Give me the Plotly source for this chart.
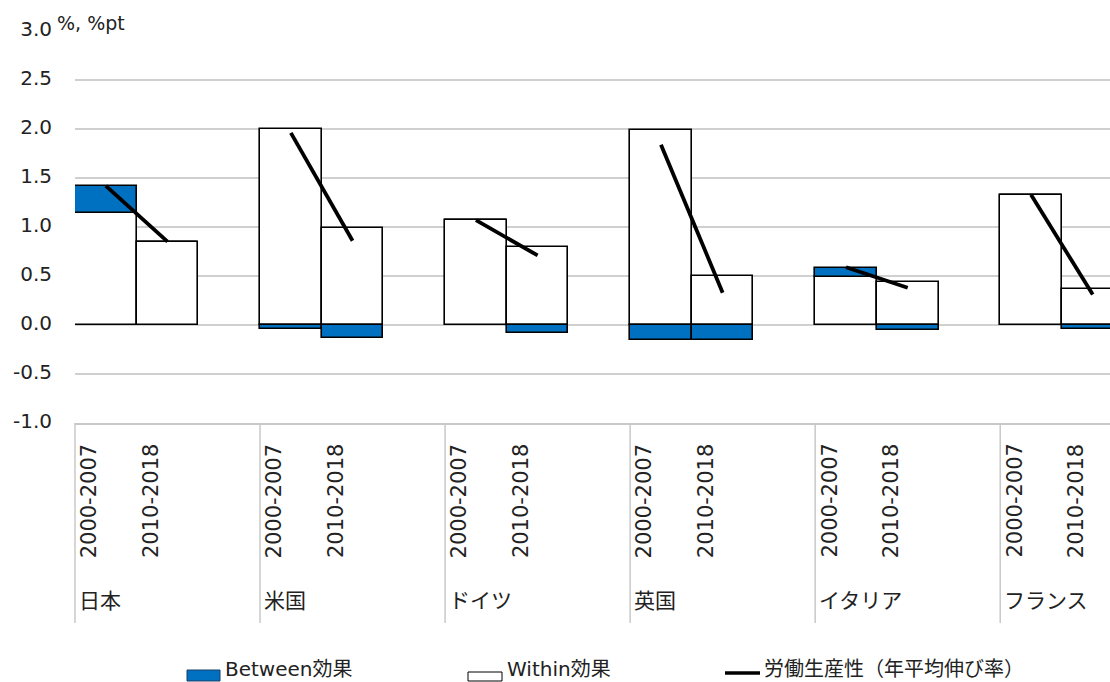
import plotly.graph_objects as go

# Labour productivity growth decomposition (% / %pt, annual average)
countries = ["日本", "米国", "ドイツ", "英国", "イタリア", "フランス"]
periods = ["2000-2007", "2010-2018"]

within_2000_2007 = [1.14, 2.00, 1.07, 1.99, 0.49, 1.33]
within_2010_2018 = [0.85, 0.99, 0.80, 0.50, 0.44, 0.37]
between_2000_2007 = [0.28, -0.04, 0.0, -0.155, 0.09, 0.0]
between_2010_2018 = [0.0, -0.13, -0.08, -0.155, -0.05, -0.045]
productivity_2000_2007 = [1.42, 1.96, 1.07, 1.84, 0.59, 1.33]
productivity_2010_2018 = [0.85, 0.86, 0.71, 0.33, 0.38, 0.31]

y_ticks = [-1.0, -0.5, 0.0, 0.5, 1.0, 1.5, 2.0, 2.5, 3.0]
y_tick_text = [f"{v:.1f}" for v in y_ticks]  # plain hyphen for negatives

# layout geometry
W, H = 1110, 682
L, R, T, B = 75, 0, 31, 259
SLOTS_PER_GROUP = 3
X_RANGE = [-0.5, 16.28]
Y_RANGE = [-1.0, 3.0]

FONT = "DejaVu Sans, Noto Sans CJK JP, sans-serif"
TEXT = "#222222"
GRID = "#d0d0d0"
BLUE = "#0070C0"

plot_w = W - L - R
plot_h = H - T - B


def px_x(px):
    return (px - L) / plot_w


def px_y(py):
    return (H - B - py) / plot_h


def slot_to_paper(s):
    return (s - X_RANGE[0]) / (X_RANGE[1] - X_RANGE[0])


slot_x, within, between = [], [], []
for i in range(len(countries)):
    for j, (w, b) in enumerate([(within_2000_2007[i], between_2000_2007[i]),
                                (within_2010_2018[i], between_2010_2018[i])]):
        slot_x.append(SLOTS_PER_GROUP * i + j)
        within.append(w)
        between.append(b)

line_x, line_y = [], []
for i in range(len(countries)):
    line_x += [SLOTS_PER_GROUP * i, SLOTS_PER_GROUP * i + 1, None]
    line_y += [productivity_2000_2007[i], productivity_2010_2018[i], None]

fig = go.Figure()
fig.add_trace(go.Bar(
    x=slot_x, y=within, width=1, name="Within効果",
    marker=dict(color="white", line=dict(color="black", width=1.6)),
))
fig.add_trace(go.Bar(
    x=slot_x, y=between, width=1, name="Between効果",
    marker=dict(color=BLUE, line=dict(color="black", width=1.6)),
))
fig.add_trace(go.Scatter(
    x=line_x, y=line_y, mode="lines", name="労働生産性（年平均伸び率）",
    line=dict(color="black", width=3.8), connectgaps=False,
))

shapes = []
annotations = []

# group dividers below the plot
for i in range(len(countries)):
    xs = slot_to_paper(SLOTS_PER_GROUP * i - 0.5)
    shapes.append(dict(type="line", xref="paper", yref="paper",
                       x0=xs, x1=xs, y0=px_y(423), y1=px_y(623),
                       line=dict(color="#c8c8c8", width=1.5)))
    # country label
    annotations.append(dict(text=countries[i], xref="paper", yref="paper",
                            x=xs, y=px_y(601), xanchor="left", yanchor="middle",
                            xshift=2, showarrow=False,
                            font=dict(family=FONT, size=21, color=TEXT)))
    # period labels (rotated)
    for j, p in enumerate(periods):
        annotations.append(dict(text=p, xref="paper", yref="paper",
                                x=slot_to_paper(SLOTS_PER_GROUP * i + j),
                                y=px_y(501), xanchor="center", yanchor="middle",
                                xshift=-16.5, textangle=-90, showarrow=False,
                                font=dict(family=FONT, size=21, color=TEXT)))

# unit label
annotations.append(dict(text="%, %pt", xref="paper", yref="paper",
                        x=px_x(55), y=px_y(23), xanchor="left", yanchor="middle",
                        showarrow=False, font=dict(family=FONT, size=19, color=TEXT)))

# legend
shapes.append(dict(type="rect", xref="paper", yref="paper",
                   x0=px_x(187), x1=px_x(220), y0=px_y(670), y1=px_y(681),
                   fillcolor=BLUE, line=dict(color="#1f3f66", width=1)))
annotations.append(dict(text="Between効果", xref="paper", yref="paper",
                        x=px_x(223), y=px_y(669), xanchor="left", yanchor="middle",
                        showarrow=False, font=dict(family=FONT, size=20, color=TEXT)))
shapes.append(dict(type="rect", xref="paper", yref="paper",
                   x0=px_x(468), x1=px_x(502), y0=px_y(672), y1=px_y(681),
                   fillcolor="white", line=dict(color="black", width=1)))
annotations.append(dict(text="Within効果", xref="paper", yref="paper",
                        x=px_x(505), y=px_y(669), xanchor="left", yanchor="middle",
                        showarrow=False, font=dict(family=FONT, size=20, color=TEXT)))
shapes.append(dict(type="line", xref="paper", yref="paper",
                   x0=px_x(725), x1=px_x(760), y0=px_y(673), y1=px_y(673),
                   line=dict(color="black", width=3.5)))
annotations.append(dict(text="労働生産性（年平均伸び率）", xref="paper", yref="paper",
                        x=px_x(762), y=px_y(669), xanchor="left", yanchor="middle",
                        showarrow=False, font=dict(family=FONT, size=20, color=TEXT)))

fig.update_layout(
    width=W, height=H,
    margin=dict(l=L, r=R, t=T, b=B, pad=0),
    paper_bgcolor="white", plot_bgcolor="white",
    barmode="relative", bargap=0, showlegend=False,
    font=dict(family=FONT, color=TEXT),
    shapes=shapes, annotations=annotations,
    xaxis=dict(range=X_RANGE, showticklabels=False, showgrid=False,
               zeroline=False, showline=True, linecolor="#c8c8c8", linewidth=1.5,
               fixedrange=True),
    yaxis=dict(range=Y_RANGE, tickvals=y_ticks, ticktext=y_tick_text,
               showgrid=True, gridcolor=GRID, gridwidth=1.5,
               zeroline=False, showline=False, ticks="",
               ticklabelstandoff=22, ticklabelshift=-2,
               tickfont=dict(family=FONT, size=20, color=TEXT), fixedrange=True),
)

fig.write_html("out.html")
